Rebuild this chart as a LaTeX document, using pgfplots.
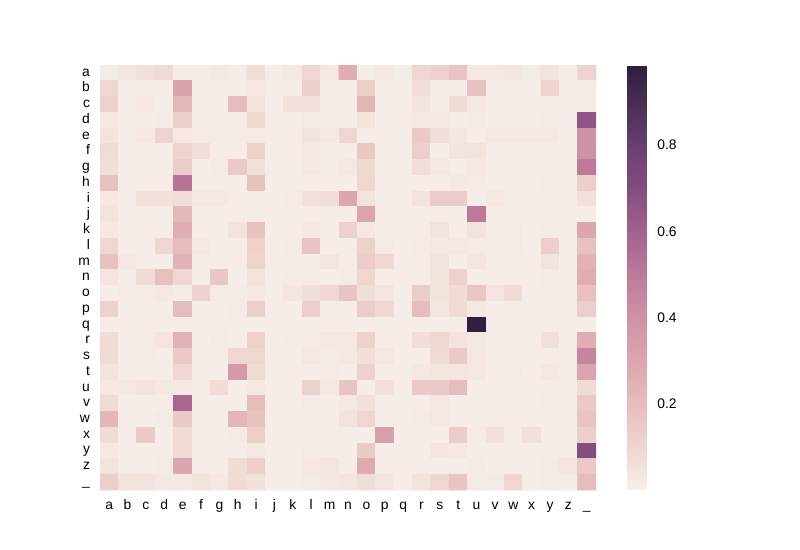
\documentclass[border=0pt]{standalone}
\usepackage{fontspec}
\setmainfont{Liberation Sans}
\usepackage{pgfplots}
\pgfplotsset{compat=1.18}

% seaborn cubehelix, sampled off the reference colour bar
\pgfplotsset{
  colormap={cubehelix}{
    rgb255(0cm)=(247,240,235); rgb255(1cm)=(239,214,208); rgb255(2cm)=(230,190,189);
    rgb255(3cm)=(220,167,176); rgb255(4cm)=(208,147,164); rgb255(5cm)=(192,123,155);
    rgb255(6cm)=(164,100,143); rgb255(7cm)=(134,79,128); rgb255(8cm)=(107,66,112);
    rgb255(9cm)=(76,48,88); rgb255(10cm)=(45,30,62)
  }
}

\begin{document}
\begin{tikzpicture}[font=\fontsize{10.4}{12.5}\selectfont]
\useasboundingbox (0,0) rectangle (600pt,412.5pt);
\begin{axis}[
    at={(75pt,45pt)}, anchor=south west,
    scale only axis,
    width=372pt, height=318.75pt,
    xmin=-0.5, xmax=26.5, ymin=-0.5, ymax=26.5,
    enlargelimits=false,
    y dir=reverse,
    axis line style={draw=none},
    major tick length=0pt,
    typeset ticklabels with strut,
    xtick={0,...,26}, ytick={0,...,26},
    xticklabels={a,b,c,d,e,f,g,h,i,j,k,l,m,n,o,p,q,r,s,t,u,v,w,x,y,z,\_},
    yticklabels={a,b,c,d,e,f,g,h,i,j,k,l,m,n,o,p,q,r,s,t,u,v,w,x,y,z,\_},
    xticklabel style={yshift=-2pt},
    yticklabel style={xshift=-4pt},
    colormap name=cubehelix,
    point meta min=0, point meta max=0.986,
    colorbar,
    colorbar style={
        at={(parent axis.south east)}, anchor=south west, xshift=15pt,
        scale only axis, width=15pt, height=318.75pt,
        ytick={0.2,0.4,0.6,0.8},
        yticklabel pos=right,
        major tick length=0pt,
        axis line style={draw=none},
        /pgf/number format/assume math mode=true,
        yticklabel style={xshift=4pt, /pgf/number format/fixed,
            /pgf/number format/precision=1, /pgf/number format/fixed zerofill},
    },
]
\addplot[matrix plot*, mesh/cols=27, point meta=explicit]
  table[row sep=\\, header=false, meta index=0,
        x expr={mod(\coordindex,27)}, y expr={floor((\coordindex+0.5)/27)}] {
% a
.02\\ .04\\ .06\\ .08\\ .01\\ .02\\ .03\\ .01\\ .07\\ .01\\ .03\\ .10\\ .03\\ .27\\ .01\\ .03\\ .01\\ .10\\ .12\\ .17\\ .03\\ .03\\ .04\\ .02\\ .05\\ .01\\ .11\\
% b
.10\\ .01\\ .01\\ .01\\ .32\\ .01\\ .01\\ .01\\ .03\\ .01\\ .01\\ .13\\ .01\\ .01\\ .13\\ .01\\ .01\\ .07\\ .02\\ .01\\ .18\\ .01\\ .01\\ .01\\ .11\\ .01\\ .02\\
% c
.12\\ .01\\ .03\\ .01\\ .22\\ .01\\ .01\\ .20\\ .05\\ .01\\ .06\\ .06\\ .01\\ .01\\ .23\\ .01\\ .01\\ .05\\ .01\\ .08\\ .03\\ .01\\ .01\\ .01\\ .01\\ .01\\ .02\\
% d
.03\\ .01\\ .01\\ .02\\ .13\\ .01\\ .01\\ .01\\ .09\\ .01\\ .01\\ .02\\ .01\\ .01\\ .05\\ .01\\ .01\\ .03\\ .03\\ .01\\ .02\\ .01\\ .01\\ .01\\ .02\\ .01\\ .66\\
% e
.05\\ .01\\ .03\\ .11\\ .03\\ .02\\ .02\\ .02\\ .02\\ .01\\ .01\\ .05\\ .03\\ .10\\ .01\\ .01\\ .01\\ .15\\ .07\\ .04\\ .01\\ .03\\ .03\\ .03\\ .03\\ .01\\ .40\\
% f
.08\\ .01\\ .01\\ .01\\ .11\\ .07\\ .01\\ .01\\ .12\\ .01\\ .01\\ .03\\ .01\\ .01\\ .16\\ .01\\ .01\\ .13\\ .01\\ .05\\ .05\\ .01\\ .01\\ .01\\ .01\\ .01\\ .40\\
% g
.07\\ .01\\ .01\\ .01\\ .14\\ .01\\ .02\\ .15\\ .06\\ .01\\ .01\\ .03\\ .01\\ .03\\ .09\\ .01\\ .01\\ .07\\ .03\\ .01\\ .03\\ .01\\ .01\\ .01\\ .01\\ .01\\ .50\\
% h
.18\\ .01\\ .01\\ .01\\ .52\\ .01\\ .01\\ .01\\ .18\\ .01\\ .01\\ .01\\ .01\\ .01\\ .10\\ .01\\ .01\\ .01\\ .01\\ .03\\ .02\\ .01\\ .01\\ .01\\ .02\\ .01\\ .13\\
% i
.03\\ .02\\ .06\\ .06\\ .07\\ .03\\ .03\\ .01\\ .01\\ .01\\ .02\\ .06\\ .07\\ .30\\ .05\\ .01\\ .01\\ .05\\ .14\\ .14\\ .01\\ .03\\ .01\\ .01\\ .01\\ .01\\ .06\\
% j
.05\\ .01\\ .01\\ .01\\ .22\\ .01\\ .01\\ .01\\ .02\\ .01\\ .01\\ .01\\ .01\\ .01\\ .30\\ .01\\ .01\\ .01\\ .01\\ .01\\ .50\\ .01\\ .01\\ .01\\ .01\\ .01\\ .01\\
% k
.03\\ .01\\ .01\\ .01\\ .27\\ .01\\ .01\\ .05\\ .18\\ .01\\ .01\\ .03\\ .01\\ .12\\ .03\\ .01\\ .01\\ .01\\ .05\\ .01\\ .05\\ .01\\ .02\\ .01\\ .02\\ .01\\ .30\\
% l
.10\\ .01\\ .01\\ .10\\ .20\\ .03\\ .01\\ .01\\ .12\\ .01\\ .02\\ .17\\ .01\\ .01\\ .12\\ .02\\ .01\\ .02\\ .03\\ .03\\ .02\\ .02\\ .02\\ .01\\ .13\\ .01\\ .18\\
% m
.18\\ .03\\ .01\\ .01\\ .25\\ .01\\ .01\\ .01\\ .11\\ .01\\ .01\\ .01\\ .04\\ .01\\ .14\\ .09\\ .01\\ .01\\ .05\\ .01\\ .04\\ .01\\ .01\\ .01\\ .05\\ .01\\ .25\\
% n
.04\\ .01\\ .08\\ .19\\ .10\\ .01\\ .16\\ .01\\ .05\\ .01\\ .02\\ .02\\ .01\\ .02\\ .10\\ .01\\ .01\\ .01\\ .05\\ .12\\ .01\\ .01\\ .01\\ .01\\ .02\\ .01\\ .27\\
% o
.01\\ .02\\ .02\\ .03\\ .01\\ .12\\ .02\\ .02\\ .03\\ .01\\ .04\\ .07\\ .09\\ .17\\ .07\\ .04\\ .01\\ .14\\ .05\\ .08\\ .16\\ .04\\ .08\\ .01\\ .01\\ .01\\ .18\\
% p
.12\\ .01\\ .01\\ .01\\ .20\\ .01\\ .01\\ .02\\ .13\\ .01\\ .01\\ .13\\ .01\\ .01\\ .14\\ .09\\ .01\\ .20\\ .04\\ .08\\ .03\\ .01\\ .01\\ .01\\ .01\\ .01\\ .13\\
% q
.01\\ .01\\ .01\\ .01\\ .01\\ .01\\ .01\\ .01\\ .01\\ .01\\ .01\\ .01\\ .01\\ .01\\ .01\\ .01\\ .01\\ .01\\ .01\\ .01\\ .98\\ .01\\ .01\\ .01\\ .01\\ .01\\ .01\\
% r
.08\\ .01\\ .02\\ .04\\ .25\\ .01\\ .02\\ .01\\ .12\\ .01\\ .02\\ .02\\ .03\\ .03\\ .12\\ .01\\ .01\\ .07\\ .09\\ .05\\ .03\\ .01\\ .01\\ .01\\ .06\\ .01\\ .27\\
% s
.08\\ .01\\ .02\\ .01\\ .15\\ .01\\ .01\\ .10\\ .10\\ .01\\ .01\\ .03\\ .02\\ .03\\ .07\\ .03\\ .01\\ .01\\ .08\\ .15\\ .03\\ .01\\ .01\\ .01\\ .01\\ .01\\ .45\\
% t
.05\\ .01\\ .01\\ .01\\ .10\\ .01\\ .01\\ .36\\ .08\\ .01\\ .01\\ .01\\ .02\\ .01\\ .12\\ .01\\ .01\\ .03\\ .04\\ .04\\ .03\\ .01\\ .02\\ .01\\ .03\\ .01\\ .30\\
% u
.03\\ .03\\ .05\\ .03\\ .03\\ .02\\ .08\\ .01\\ .03\\ .01\\ .01\\ .12\\ .03\\ .17\\ .01\\ .06\\ .01\\ .15\\ .15\\ .20\\ .01\\ .01\\ .01\\ .01\\ .01\\ .01\\ .08\\
% v
.08\\ .01\\ .01\\ .01\\ .58\\ .01\\ .01\\ .01\\ .20\\ .01\\ .01\\ .02\\ .01\\ .03\\ .06\\ .01\\ .01\\ .01\\ .03\\ .01\\ .01\\ .01\\ .01\\ .01\\ .02\\ .01\\ .15\\
% w
.23\\ .01\\ .01\\ .02\\ .15\\ .01\\ .01\\ .23\\ .18\\ .01\\ .01\\ .01\\ .01\\ .05\\ .10\\ .01\\ .01\\ .02\\ .03\\ .01\\ .01\\ .01\\ .01\\ .01\\ .01\\ .01\\ .17\\
% x
.08\\ .01\\ .15\\ .01\\ .08\\ .01\\ .01\\ .02\\ .13\\ .01\\ .01\\ .01\\ .01\\ .01\\ .01\\ .33\\ .01\\ .01\\ .01\\ .14\\ .02\\ .06\\ .01\\ .06\\ .01\\ .01\\ .13\\
% y
.03\\ .01\\ .01\\ .01\\ .08\\ .01\\ .01\\ .01\\ .03\\ .01\\ .01\\ .02\\ .01\\ .01\\ .15\\ .01\\ .01\\ .01\\ .04\\ .03\\ .01\\ .01\\ .01\\ .01\\ .01\\ .01\\ .70\\
% z
.05\\ .01\\ .01\\ .02\\ .30\\ .01\\ .01\\ .08\\ .13\\ .01\\ .01\\ .03\\ .04\\ .01\\ .28\\ .01\\ .01\\ .01\\ .01\\ .01\\ .02\\ .01\\ .01\\ .01\\ .02\\ .04\\ .15\\
% _
.13\\ .05\\ .05\\ .03\\ .03\\ .05\\ .03\\ .08\\ .06\\ .01\\ .01\\ .02\\ .03\\ .04\\ .07\\ .04\\ .01\\ .05\\ .10\\ .17\\ .02\\ .02\\ .10\\ .01\\ .02\\ .01\\ .20\\
};
\end{axis}
\end{tikzpicture}
\end{document}
